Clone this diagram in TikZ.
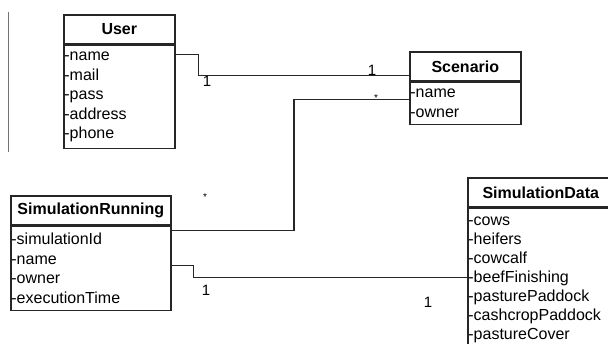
\documentclass[tikz,border=0pt]{standalone}
\usepackage{fontspec}
\setmainfont{Liberation Sans}
\usetikzlibrary{positioning}

\begin{document}
\begin{tikzpicture}[
    x=1pt, y=-1pt,
    head/.style={rectangle, draw=black!85, line width=1.6pt,
                 minimum width=#1, minimum height=29pt, inner sep=0pt,
                 font=\fontsize{16}{19.5}\selectfont\bfseries},
    attrs/.style={rectangle, draw=black!85, line width=1.6pt,
                  text width=#1, align=left, inner xsep=0.6pt, inner ysep=0pt,
                  font=\fontsize{16}{19.5}\selectfont},
    assoc/.style={line width=1.4pt, draw=black!85},
    mult/.style={font=\fontsize{15}{15}\selectfont, inner sep=0pt},
    star/.style={font=\fontsize{10}{10}\selectfont, inner sep=0pt},
]

% --- page frame ---
\useasboundingbox (0,0) rectangle (608,343);
\clip (0,0) rectangle (608,343);

% --- stray margin rule ---
\coordinate (RULEtop) at (8,12);
\coordinate (RULEbot) at (8,152);
\draw [line width=1pt, draw=black!55] (RULEtop) -- (RULEbot);

% ============================================================
%  Classes
% ============================================================
\node (user) [head=111pt, anchor=north west] at (63,14) {User};
\node (userattr) [attrs=109.8pt, minimum height=103pt, below=0pt of user]
    {-name\\-mail\\-pass\\-address\\-phone};

\node (scen) [head=111pt, anchor=north west] at (409,51) {Scenario};
\node (scenattr) [attrs=109.8pt, minimum height=42pt, below=0pt of scen]
    {-name\\-owner};

\node (simrun) [head=160pt, anchor=north west] at (10,195) {SimulationRunning};
\node (simrunattr) [attrs=158.8pt, minimum height=84pt, below=0pt of simrun]
    {-simulationId\\-name\\-owner\\-executionTime};

\node (simdata) [head=146pt, anchor=north west] at (467,177) {SimulationData};
\node (simdataattr) [attrs=144.8pt, minimum height=142pt, below=0pt of simdata,
    font=\fontsize{16}{19}\selectfont]
    {-cows\\-heifers\\-cowcalf\\-beefFinishing\\-pasturePaddock\\-cashcropPaddock\\-pastureCover};

% ============================================================
%  Associations
% ============================================================
% User -- Scenario
\draw [assoc] (userattr.north east) ++(0,10) -- ++(23,0)
    |- ([yshift=-9pt]scen.west);
\node [mult] at (207,81) {1};
\node [mult] at (372,70) {1};

% Scenario -- SimulationRunning
\draw [assoc] (scenattr.north west) ++(0,18) -- ++(-115,0)
    |- ([yshift=-5pt]simrunattr.north east);
\node [star] at (376,98) {*};
\node [star] at (205,197) {*};

% SimulationRunning -- SimulationData
\draw [assoc] (simrunattr.north east) ++(0,40) -- ++(22,0)
    |- ([yshift=-70pt]simdataattr.north west);
\node [mult] at (206,290) {1};
\node [mult] at (428,302) {1};

\end{tikzpicture}
\end{document}
